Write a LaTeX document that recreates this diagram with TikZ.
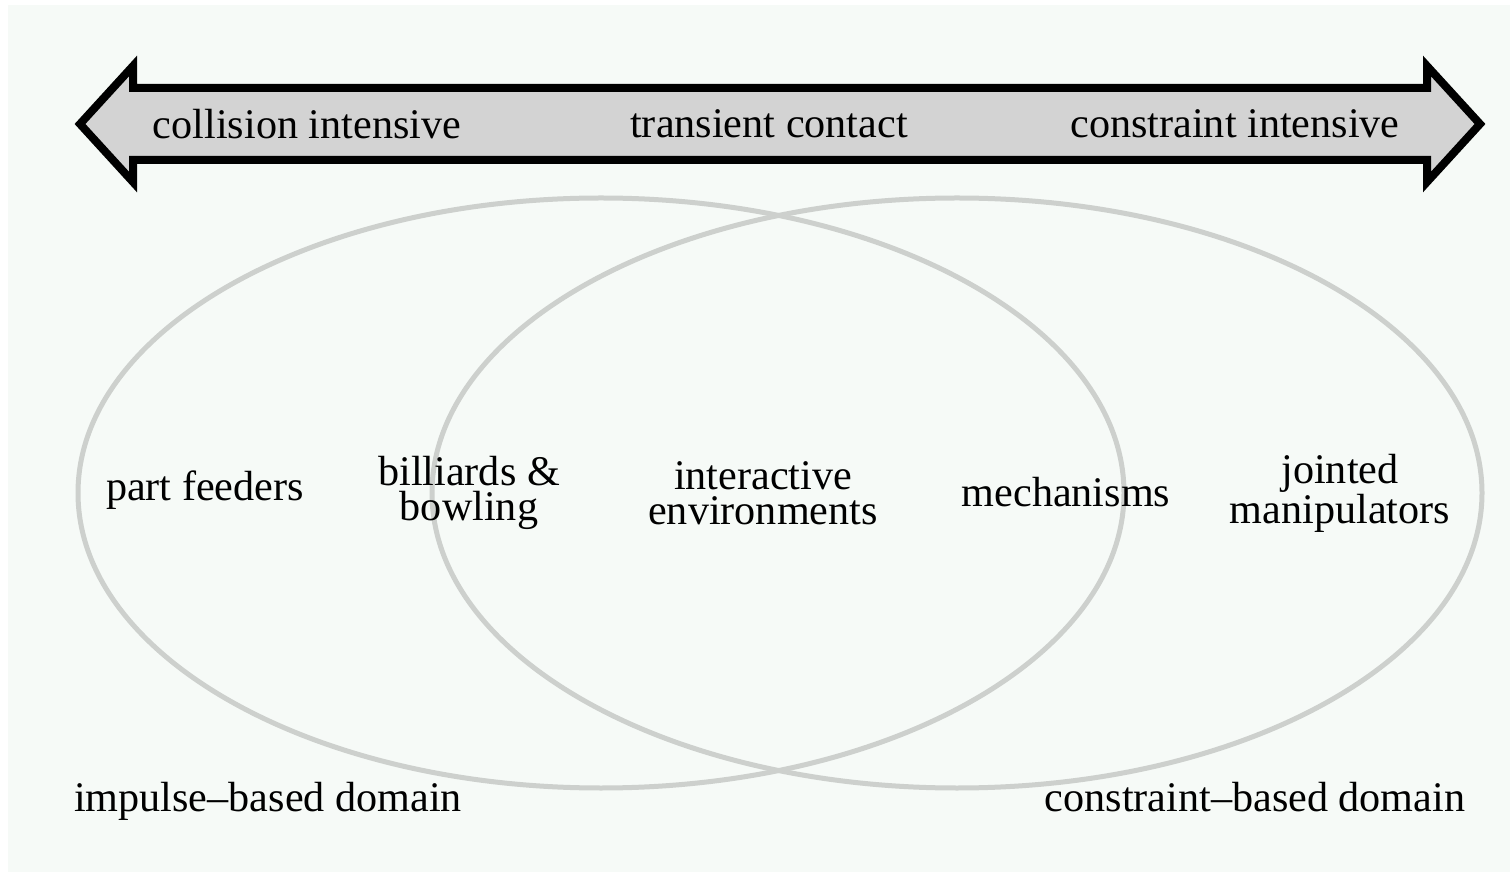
\documentclass[tikz,border=0pt]{standalone}
\usepackage{fontspec}
\setmainfont{Liberation Serif}
\definecolor{paper}{RGB}{246,250,247}
\definecolor{band}{RGB}{211,211,211}
\definecolor{ring}{RGB}{205,208,205}
\begin{document}
\begin{tikzpicture}[
    x=0.2mm, y=-0.2mm,
    word/.style={
        align=center,
        inner sep=0pt,
        font=\fontsize{24}{20}\selectfont,
    },
    region/.style={
        draw=ring,
        line width=1mm,
    },
    scale arrow/.style={
        draw=black,
        fill=band,
        line width=1.6mm,
        line join=miter,
    }
]

    % page and its tinted field
    \fill[white] (0,0) rectangle (1510,872);
    \fill[paper] (8,5) rectangle (1510,872);
    \useasboundingbox (0,0) rectangle (1510,872);

    % the two overlapping domains
    \draw[region] (601,493) ellipse [x radius=523, y radius=295];
    \draw[region] (957,493) ellipse [x radius=525, y radius=295];

    % the double arrow on top
    \coordinate (lefttip) at (80,124);
    \coordinate (righttip) at (1480,124);
    \draw[scale arrow] (lefttip) -- (133,66) -- (133,88) -- (1427,88)
        -- (1427,66) -- (righttip) -- (1427,182) -- (1427,160)
        -- (133,160) -- (133,182) -- cycle;

    \node[word] (collision) at (307,124) {collision intensive};
    \node[word] (transient) at (769,124) {transient contact};
    \node[word] (constraint) at (1235,124) {constraint intensive};

    % applications inside the domains
    \node[word] (feeders) at (205,490) {part feeders};
    \node[word] (billiards) at (469,493) {billiards \&\\bowling};
    \node[word] (interactive) at (763,493) {interactive\\environments};
    \node[word] (mechanisms) at (1066,492) {mechanisms};
    \node[word] (jointed) at (1340,493) {jointed\\manipulators};

    % domain names, on a common baseline
    \node[word, anchor=base] (impulse) at (268,811) {impulse--based domain};
    \node[word, anchor=base] (constrained) at (1255,811) {constraint--based domain};
\end{tikzpicture}
\end{document}
